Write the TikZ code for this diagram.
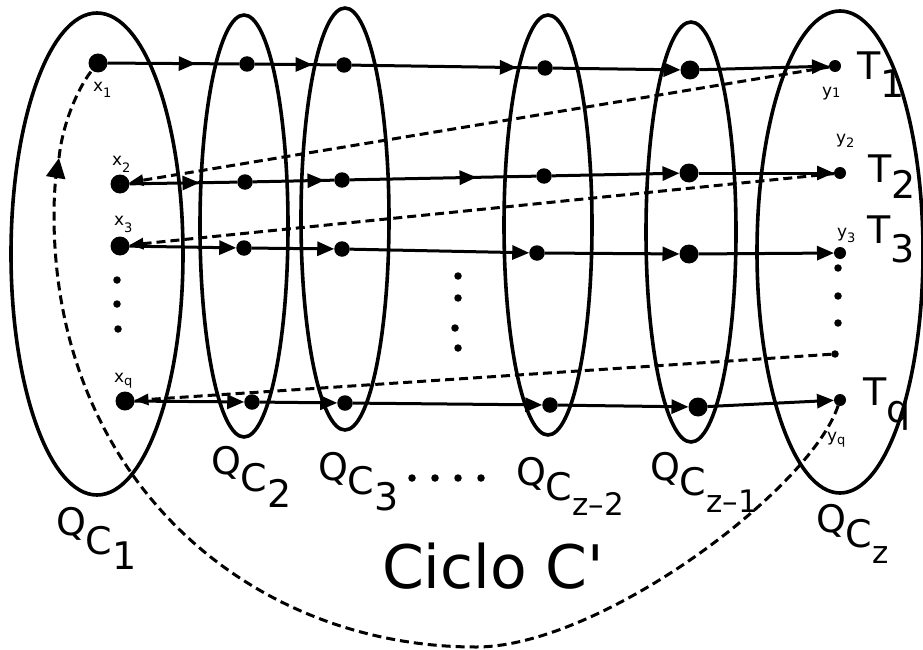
\documentclass[tikz,border=0pt]{standalone}
\usepackage{fontspec}
\setmainfont{DejaVu Sans}
\newfontfamily\plainfont{DejaVu Sans}
\usetikzlibrary{arrows.meta,decorations.markings}
\tikzset{
  every node/.style={inner sep=0pt, outer sep=0pt},
  bigdot/.style={circle, fill, minimum size=19pt},
  meddot/.style={circle, fill, minimum size=15.5pt},
  smalldot/.style={circle, fill, minimum size=12pt},
  tinydot/.style={circle, fill, minimum size=7.5pt},
  setline/.style={line width=3.6pt},
  conn/.style={line width=3pt, -{Triangle[length=17pt,width=14pt]}},
  midarr/.style={line width=3pt, postaction={decorate},
    decoration={markings, mark=at position #1 with {\arrow{Triangle[length=17pt,width=14pt]}}}},
  dashline/.style={line width=3pt, dash pattern=on 9pt off 5pt},
  dashconn/.style={dashline, -{Triangle[length=14pt,width=11pt]}},
  biglab/.style={anchor=base west, font=\fontsize{38}{40}\selectfont},
  smalllab/.style={anchor=base west, font=\fontsize{17}{19}\selectfont},
}
\newcommand{\subsm}[2]{\raisebox{-#1pt}{\fontsize{13}{14}\selectfont #2}}
\begin{document}
\begin{tikzpicture}[x=1pt,y=-1pt]
\useasboundingbox (0,0) rectangle (923,650);

% sets
\draw[setline] (97,254) ellipse [x radius=86pt, y radius=241pt];
\draw[setline] (244,226) ellipse [x radius=44pt, y radius=211pt];
\draw[setline] (345,219) ellipse [x radius=44pt, y radius=211pt];
\draw[setline] (548,225) ellipse [x radius=44pt, y radius=210pt];
\draw[setline] (691,232) ellipse [x radius=45pt, y radius=210pt];
\draw[setline] (840,252) ellipse [x radius=83pt, y radius=241pt];

% row 1
\node[bigdot] (x1) at (98,63) {};
\node[meddot] (a2) at (247,64) {};
\node[meddot] (a3) at (344,65) {};
\node[meddot] (a4) at (545,68) {};
\node[bigdot] (a5) at (690,70) {};
\node[smalldot] (y1) at (835,66) {};
% row 2
\node[bigdot] (x2) at (120,184) {};
\node[meddot] (b2) at (245,182) {};
\node[meddot] (b3) at (342,180) {};
\node[meddot] (b4) at (544,176) {};
\node[bigdot] (b5) at (689,173) {};
\node[smalldot] (y2) at (840,173) {};
% row 3
\node[bigdot] (x3) at (120,246) {};
\node[meddot] (c2) at (244,248) {};
\node[meddot] (c3) at (342,249) {};
\node[meddot] (c4) at (537,253) {};
\node[bigdot] (c5) at (689,254) {};
\node[smalldot] (y3) at (840,253) {};
% row q
\node[bigdot] (xq) at (125,401) {};
\node[meddot] (d2) at (252,402) {};
\node[meddot] (d3) at (345,403) {};
\node[meddot] (d4) at (550,405) {};
\node[bigdot] (d5) at (698,407) {};
\node[smalldot] (yq) at (840,400) {};

% ellipsis dots
\node[tinydot] (l1) at (117,280) {};
\node[tinydot] (l2) at (117,304) {};
\node[tinydot] (l3) at (118,329) {};
\node[tinydot] (m1) at (458,276) {};
\node[tinydot] (m2) at (458,298) {};
\node[tinydot] (m3) at (455,328) {};
\node[tinydot] (m4) at (458,348) {};
\node[tinydot] (r1) at (838,268) {};
\node[tinydot] (r2) at (838,296) {};
\node[tinydot] (r3) at (838,323) {};
\node[tinydot] (qd) at (835,354) {};
\node[tinydot] (b1) at (412,478) {};
\node[tinydot] (bb2) at (435,478) {};
\node[tinydot] (bb3) at (458,478) {};
\node[tinydot] (bb4) at (481,478) {};

% solid connectors
\draw[midarr=0.67] (x1) -- (a2);
\draw[midarr=0.71] (a2) -- (a3);
\draw[midarr=0.89] (a3) -- (a4);
\draw[conn] (a4) -- (a5);
\draw[conn] (a5) -- (y1);

\draw[midarr=0.65] (x2) -- (b2);
\draw[midarr=0.88] (b2) -- (b3);
\draw[midarr=0.68] (b3) -- (b4);
\draw[conn] (b4) -- (b5);
\draw[conn] (b5) -- (y2);

\draw[conn] (x3) -- (c2);
\draw[conn] (c2) -- (c3);
\draw[conn] (c3) -- (c4);
\draw[conn] (c4) -- (c5);
\draw[conn] (c5) -- (y3);

\draw[conn] (xq) -- (d2);
\draw[conn] (d2) -- (d3);
\draw[conn] (d3) -- (d4);
\draw[conn] (d4) -- (d5);
\draw[conn] (d5) -- (yq);

% dashed returns
\draw[dashconn] (y1) -- (x2);
\draw[dashconn] (y2) -- (x3);
\draw[dashconn] (qd) -- (xq);

% big cycle
\coordinate (cA) at (59,158);
\draw[dashline, -{Triangle[length=20pt,width=19pt]}] (yq) .. controls (810,490) and (600,647) .. (476,647)
   .. controls (250,647) and (54,480) .. (54,215) .. controls (54,192) and (56,176) .. (cA);
\draw[dashline] (cA) .. controls (63,120) and (80,85) .. (x1);

% small labels
\node[smalllab] (lx1) at (93,92) {x\subsm{6}{1}};
\node[smalllab] (lx2) at (112,165) {x\subsm{7}{2}};
\node[smalllab] (lx3) at (114,225) {x\subsm{7}{3}};
\node[smalllab] (lxq) at (114,382) {x\subsm{3}{q}};
\node[smalllab] (ly1) at (822,97) {y\subsm{1}{1}};
\node[smalllab] (ly2) at (836,143) {y\subsm{4}{2}};
\node[smalllab] (ly3) at (837,237) {y\subsm{5}{3}};
\node[smalllab] (lyq) at (827,441) {y\subsm{3}{q}};

% T labels
\node[biglab] (t1) at (857,80) {T\raisebox{-18pt}{1}};
\node[biglab] (t2) at (868,182) {T\raisebox{-16pt}{2}};
\node[biglab] (t3) at (867,243) {T\raisebox{-19pt}{3}};
\node[biglab] (tq) at (863,405) {T\raisebox{-17pt}{q}};

% Q labels
\node[biglab] (q1) at (56,535) {Q\raisebox{-19pt}{C\raisebox{-15pt}{1}}};
\node[biglab] (q2) at (211,474) {Q\raisebox{-17pt}{C\raisebox{-16pt}{2}}};
\node[biglab] (q3) at (318,480) {Q\raisebox{-14pt}{C\raisebox{-16pt}{3}}};
\node[biglab] (qz2) at (516,485) {Q\raisebox{-15pt}{C\raisebox{-15pt}{\fontsize{31}{32}\selectfont z–2}}};
\node[biglab] (qz1) at (650,480) {Q\raisebox{-15pt}{C\raisebox{-17pt}{\fontsize{31}{32}\selectfont z–1}}};
\node[biglab] (qz) at (816,532) {Q\raisebox{-15pt}{C\raisebox{-16pt}{\fontsize{31}{32}\selectfont z}}};

% cycle label
\node[anchor=base west, font=\fontsize{60}{66}\selectfont] (cyc) at (382,588) {Ciclo C{\plainfont\symbol{39}}};
\end{tikzpicture}
\end{document}
